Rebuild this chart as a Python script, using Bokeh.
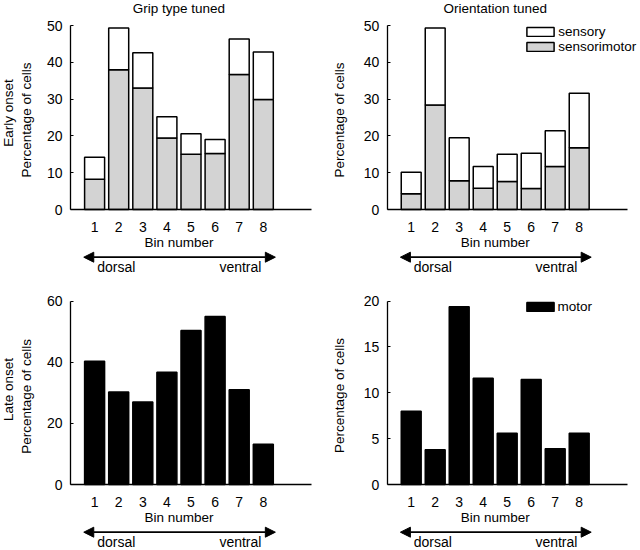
import math
from bokeh.plotting import figure
from bokeh.models import (ColumnDataSource, Range1d, FixedTicker, Label, Arrow,
                          NormalHead, Legend, LegendItem)
from bokeh.layouts import gridplot
from bokeh.embed import file_html
from bokeh.resources import INLINE

# ---------------- data ----------------
bins = [1, 2, 3, 4, 5, 6, 7, 8]
grip_sensorimotor = [8.2, 38.0, 33.0, 19.4, 15.0, 15.2, 36.7, 29.9]
grip_sensory = [6.0, 11.3, 9.6, 5.8, 5.6, 3.8, 9.6, 12.9]
orient_sensorimotor = [4.3, 28.4, 7.8, 5.8, 7.6, 5.7, 11.7, 16.8]
orient_sensory = [5.8, 20.9, 11.7, 5.9, 7.4, 9.6, 9.7, 14.8]
grip_motor_late = [40.3, 30.3, 27.0, 36.7, 50.4, 55.0, 31.0, 13.2]
orient_motor_late = [8.0, 3.8, 19.4, 11.6, 5.6, 11.45, 3.9, 5.6]

early_ticks = [0, 10, 20, 30, 40, 50]
late_grip_ticks = [0, 20, 40, 60]
late_orient_ticks = [0, 5, 10, 15, 20]

titles = ["Grip type tuned", "Orientation tuned"]
row_labels = ["Early onset", "Late onset"]
y_label = "Percentage of cells"
x_label = "Bin number"

# ---------------- styling / layout ----------------
FONT = "Liberation Sans"
GRAY = "#d3d3d3"
FIG_W, FIG_H = 320, 275
BAR_W = 0.83
TXT = "13.5px"


def add_label(p, x, y, text, size=TXT, angle=0.0, align="center"):
    p.add_layout(Label(x=x, y=y, text=text, text_font=FONT, text_font_size=size,
                       text_color="black", angle=angle, text_align=align,
                       text_baseline="middle"))


def make_panel(x0px, xppu, y0px, yppu, y_ticks):
    X = lambda qx: (qx - x0px) / xppu
    Y = lambda qy: (y0px - qy) / yppu
    p = figure(width=FIG_W, height=FIG_H,
               x_range=Range1d(X(0), X(FIG_W)), y_range=Range1d(Y(FIG_H), Y(0)),
               output_backend="svg", toolbar_location=None, tools="",
               min_border=0)
    p.outline_line_color = None
    p.xgrid.visible = False
    p.ygrid.visible = False
    p.background_fill_color = "white"
    p.border_fill_color = "white"

    xa = p.xaxis[0]
    xa.fixed_location = 0
    xa.bounds = (0, 10)
    xa.ticker = FixedTicker(ticks=bins, minor_ticks=[])
    xa.major_tick_in = 0
    xa.major_tick_out = 0
    xa.minor_tick_in = 0
    xa.minor_tick_out = 0
    xa.axis_line_color = "black"
    xa.axis_line_width = 1.3
    xa.major_label_standoff = 12
    xa.major_label_text_font = FONT
    xa.major_label_text_font_size = "14px"
    xa.major_label_text_color = "black"

    ya = p.yaxis[0]
    ya.fixed_location = 0
    ya.bounds = (y_ticks[0], y_ticks[-1])
    ya.ticker = FixedTicker(ticks=y_ticks, minor_ticks=[])
    ya.major_tick_in = 3
    ya.major_tick_out = 0
    ya.minor_tick_in = 0
    ya.minor_tick_out = 0
    ya.axis_line_color = "black"
    ya.axis_line_width = 1.3
    ya.major_tick_line_color = "black"
    ya.major_label_standoff = 8
    ya.major_label_text_font = FONT
    ya.major_label_text_font_size = "14px"
    ya.major_label_text_color = "black"

    # x-axis label, arrow and dorsal/ventral
    add_label(p, 4.5, Y(241.5), x_label)
    ya_arrow = Y(256.7)
    p.add_layout(Arrow(start=NormalHead(size=10, fill_color="black", line_color="black", line_width=1),
                       end=NormalHead(size=10, fill_color="black", line_color="black", line_width=1),
                       x_start=0.55, y_start=ya_arrow, x_end=8.5, y_end=ya_arrow,
                       line_color="black", line_width=1.8))
    add_label(p, 1.9, Y(266.3), "dorsal", size="14px")
    add_label(p, 7.05, Y(266.3), "ventral", size="14px")
    return p, X, Y


def add_legend(p, items, qx, qy, nrows):
    row_h = 13
    lx = qx - 0.1 * 34
    top = qy - 1.1
    ly = FIG_H - top - nrows * row_h
    leg = Legend(items=items, location=(lx, ly), orientation="vertical",
                 padding=0, margin=0, spacing=0, glyph_width=34, glyph_height=11,
                 label_height=row_h, label_standoff=1, label_text_font=FONT,
                 label_text_font_size="13.5px", label_text_color="black",
                 border_line_color=None, background_fill_alpha=0)
    p.add_layout(leg)


src_grip = ColumnDataSource(dict(bin=bins, sensorimotor=grip_sensorimotor, sensory=grip_sensory))
src_orient = ColumnDataSource(dict(bin=bins, sensorimotor=orient_sensorimotor, sensory=orient_sensory))
src_grip_late = ColumnDataSource(dict(bin=bins, motor=grip_motor_late))
src_orient_late = ColumnDataSource(dict(bin=bins, motor=orient_motor_late))

# ---- top-left: grip, early
p1, X1, Y1 = make_panel(70.0, 24.1, 209.0, 3.68, early_ticks)
p1.vbar_stack(["sensorimotor", "sensory"], x="bin", width=BAR_W, source=src_grip,
              fill_color=[GRAY, "white"], line_color="black", line_width=1.5)
add_label(p1, 4.5, Y1(7.8), titles[0])
add_label(p1, X1(7.8), Y1(112.5), row_labels[0], angle=math.pi / 2)
add_label(p1, X1(25.5), Y1(119.5), y_label, angle=math.pi / 2)

# ---- top-right: orientation, early
p2, X2, Y2 = make_panel(66.7, 24.0, 209.0, 3.68, early_ticks)
r_sm, r_se = p2.vbar_stack(["sensorimotor", "sensory"], x="bin", width=BAR_W, source=src_orient,
                           fill_color=[GRAY, "white"], line_color="black", line_width=1.5)
add_label(p2, 4.5, Y2(7.8), titles[1])
add_label(p2, X2(18.5), Y2(119.5), y_label, angle=math.pi / 2)
add_legend(p2, [LegendItem(label="sensory", renderers=[r_se]),
                LegendItem(label="sensorimotor", renderers=[r_sm])], 206.7, 29.3, 2)

# ---- bottom-left: grip, late
p3, X3, Y3 = make_panel(70.0, 24.1, 209.0, 3.0556, late_grip_ticks)
p3.vbar(x="bin", top="motor", width=BAR_W, source=src_grip_late,
        fill_color="black", line_color="black", line_width=1.5)
add_label(p3, X3(7.8), Y3(114.0), row_labels[1], angle=math.pi / 2)
add_label(p3, X3(25.5), Y3(120.8), y_label, angle=math.pi / 2)

# ---- bottom-right: orientation, late
p4, X4, Y4 = make_panel(66.7, 24.0, 209.0, 9.1667, late_orient_ticks)
r_m = p4.vbar(x="bin", top="motor", width=BAR_W, source=src_orient_late,
              fill_color="black", line_color="black", line_width=1.5)
add_label(p4, X4(18.5), Y4(120.0), y_label, angle=math.pi / 2)
add_legend(p4, [LegendItem(label="motor", renderers=[r_m])], 206.0, 27.0, 1)

grid = gridplot([[p1, p2], [p3, p4]], toolbar_location=None)

open("out.html", "w").write(file_html(grid, INLINE))
